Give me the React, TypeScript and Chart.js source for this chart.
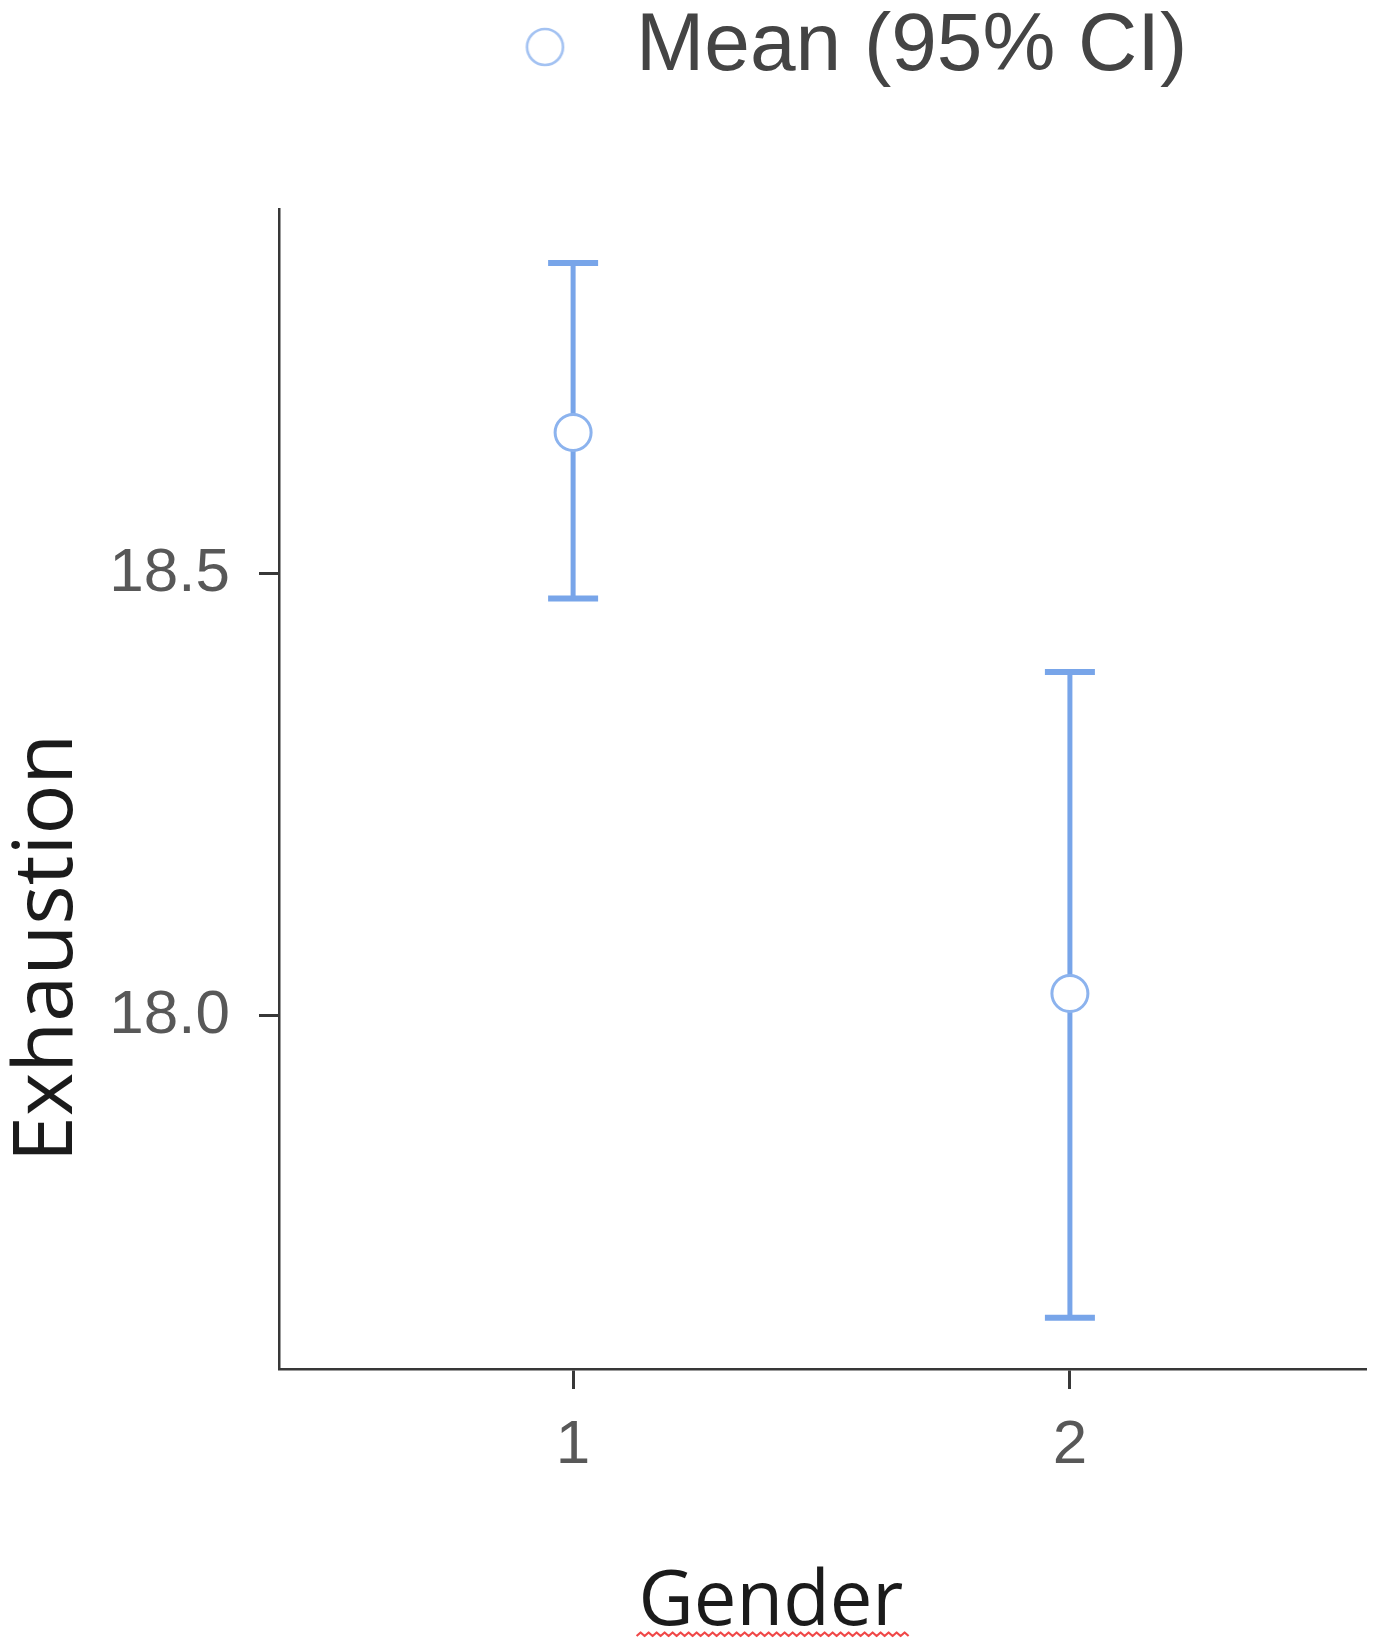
import React, { useEffect, useRef } from 'react';
import { Chart, registerables } from 'chart.js';

Chart.register(...registerables);

// ---- data ----
const genderLabels = ['1', '2'];
const genderPositions = [1, 2];
const meanValues = [18.66, 18.025];
const ciLowerValues = [18.472, 17.658];
const ciUpperValues = [18.852, 18.389];
const yTickValues = [18.0, 18.5];
const legendText = 'Mean (95% CI)';
const yTitle = 'Exhaustion';
const xTitle = 'Gender';

// ---- layout ----
const W = 1378;
const H = 1645;
const AREA_LEFT = 279;
const AREA_RIGHT = 1366;
const AREA_BOTTOM = 1369;
const LEGEND_FS = 82;
const LEGEND_TEXT_START = 636;
const LEGEND_CIRCLE_X = 545;

const LINE_COLOR = '#78a5e9';
const MARKER_COLOR = '#8cb3ee';
const AXIS_COLOR = '#383838';
const TICK_TEXT = '#585858';

const axisTitlePlugin = {
  id: 'axisTitles',
  afterDraw(chart: any) {
    const { ctx, chartArea } = chart;
    ctx.save();
    ctx.fillStyle = '#1b1b1b';
    ctx.textAlign = 'center';
    ctx.textBaseline = 'alphabetic';
    ctx.font = '83px "Open Sans"';
    ctx.translate(chartArea.left - 207, chartArea.top + 739);
    ctx.rotate(-Math.PI / 2);
    ctx.fillText(yTitle, 0, 0);
    ctx.restore();

    ctx.save();
    ctx.fillStyle = '#1b1b1b';
    ctx.textAlign = 'center';
    ctx.textBaseline = 'alphabetic';
    ctx.font = '76px "Open Sans"';
    const cx = chartArea.left + 492;
    const by = chartArea.bottom + 256;
    ctx.fillText(xTitle, cx, by);
    const w = ctx.measureText(xTitle).width;
    // spell-check squiggle under the title
    ctx.strokeStyle = '#f04848';
    ctx.lineWidth = 2.2;
    ctx.lineJoin = 'round';
    ctx.beginPath();
    const x0 = cx - w / 2 - 2;
    const x1 = cx + w / 2 + 6;
    const sy = by + 11;
    let up = true;
    ctx.moveTo(x0, sy);
    for (let x = x0 + 4; x <= x1; x += 4) {
      ctx.lineTo(x, up ? sy - 3.5 : sy);
      up = !up;
    }
    ctx.stroke();
    ctx.restore();
  },
};

export default function App() {
  const canvasRef = useRef<HTMLCanvasElement | null>(null);

  useEffect(() => {
    const canvas = canvasRef.current;
    if (!canvas) return;

    // legend geometry
    const measure = document.createElement('canvas').getContext('2d')!;
    measure.font = `${LEGEND_FS}px "Liberation Sans"`;
    const T = measure.measureText(legendText).width;
    const c = (AREA_LEFT + AREA_RIGHT) / 2;
    const B = Math.max(10, 2 * (LEGEND_TEXT_START - c) + T - LEGEND_FS / 2);
    const itemW = B + LEGEND_FS / 2 + T;
    const lx0 = c - itemW / 2;
    const natural = lx0 + B / 2;
    const offset = LEGEND_CIRCLE_X - natural;
    const img = document.createElement('canvas');
    img.width = Math.ceil(2 * (Math.abs(offset) + 24));
    img.height = 48;
    const ictx = img.getContext('2d')!;
    ictx.fillStyle = '#ffffff';
    ictx.strokeStyle = '#a3c2f2';
    ictx.lineWidth = 2.6;
    ictx.beginPath();
    ictx.arc(img.width / 2 + offset, 24, 18, 0, Math.PI * 2);
    ictx.fill();
    ictx.stroke();

    const meanData = genderPositions.map((x, i) => ({ x, y: meanValues[i] }));
    const capData = [
      ...genderPositions.map((x, i) => ({ x, y: ciLowerValues[i] })),
      ...genderPositions.map((x, i) => ({ x, y: ciUpperValues[i] })),
    ];
    const whiskerSets = genderPositions.map((x, i) => ({
      type: 'line',
      label: 'ci' + genderLabels[i],
      data: [
        { x, y: ciLowerValues[i] },
        { x, y: ciUpperValues[i] },
      ],
      borderColor: LINE_COLOR,
      borderWidth: 5,
      pointRadius: 0,
      showLine: true,
      fill: false,
    }));

    const chart = new Chart(canvas, {
      type: 'scatter',
      data: {
        datasets: [
          {
            type: 'scatter',
            label: legendText,
            data: meanData,
            pointStyle: 'circle',
            pointRadius: 18,
            pointBorderWidth: 3,
            pointBackgroundColor: '#ffffff',
            pointBorderColor: MARKER_COLOR,
          } as any,
          {
            type: 'scatter',
            label: 'caps',
            data: capData,
            pointStyle: 'line',
            pointRadius: 25,
            pointBorderWidth: 6,
            pointBorderColor: LINE_COLOR,
            pointBackgroundColor: LINE_COLOR,
          } as any,
          ...(whiskerSets as any[]),
        ],
      },
      options: {
        responsive: false,
        animation: false,
        events: [],
        layout: {
          autoPadding: false,
          padding: { left: 0, right: W - AREA_RIGHT, top: 0, bottom: 0 },
        },
        font: { family: '"Liberation Sans", Arial, sans-serif' },
        plugins: {
          tooltip: { enabled: false },
          title: {
            display: true,
            text: '',
            weight: 500,
            font: { size: 10, lineHeight: 1.2 },
            padding: { top: 99, bottom: 0 },
          } as any,
          legend: {
            display: true,
            position: 'top',
            fullSize: false,
            labels: {
              usePointStyle: true,
              pointStyleWidth: B,
              padding: 6,
              color: '#444444',
              font: { size: LEGEND_FS, family: '"Liberation Sans", Arial, sans-serif' },
              generateLabels: () => [
                {
                  text: legendText,
                  pointStyle: img,
                  fillStyle: '#ffffff',
                  strokeStyle: MARKER_COLOR,
                  lineWidth: 0,
                  hidden: false,
                  datasetIndex: 0,
                  fontColor: '#444444',
                } as any,
              ],
            },
          },
        },
        scales: {
          x: {
            type: 'linear',
            min: 0.408,
            max: 2.596,
            offset: false,
            afterBuildTicks: (scale: any) => {
              scale.ticks = genderPositions.map((v) => ({ value: v }));
            },
            afterFit: (scale: any) => {
              scale.height = H - AREA_BOTTOM;
              scale.paddingLeft = 0;
              scale.paddingRight = 0;
            },
            ticks: {
              color: TICK_TEXT,
              font: { size: 62 },
              padding: 20,
              callback: (v: any) => {
                const i = genderPositions.indexOf(Number(v));
                return i >= 0 ? genderLabels[i] : '';
              },
            },
            grid: {
              display: true,
              drawOnChartArea: false,
              drawTicks: true,
              tickLength: 20,
              tickColor: AXIS_COLOR,
              tickWidth: 3,
            },
            border: { display: true, color: AXIS_COLOR, width: 2.5 },
          },
          y: {
            type: 'linear',
            min: 17.6,
            max: 18.913,
            afterBuildTicks: (scale: any) => {
              scale.ticks = yTickValues.map((v) => ({ value: v }));
            },
            afterFit: (scale: any) => {
              scale.width = AREA_LEFT;
              scale.paddingTop = 0;
              scale.paddingBottom = 0;
            },
            ticks: {
              color: TICK_TEXT,
              font: { size: 62 },
              padding: 29,
              callback: (v: any) => Number(v).toFixed(1),
            },
            grid: {
              display: true,
              drawOnChartArea: false,
              drawTicks: true,
              tickLength: 20,
              tickColor: AXIS_COLOR,
              tickWidth: 3,
            },
            border: { display: true, color: AXIS_COLOR, width: 2.5 },
          },
        },
      } as any,
      plugins: [axisTitlePlugin],
    });

    return () => {
      chart.destroy();
    };
  }, []);

  return (
    <div style={{ position: 'absolute', left: 0, top: 0, width: W, height: H, background: '#ffffff' }}>
      <canvas ref={canvasRef} width={W} height={H} style={{ display: 'block', width: W, height: H }} />
    </div>
  );
}
